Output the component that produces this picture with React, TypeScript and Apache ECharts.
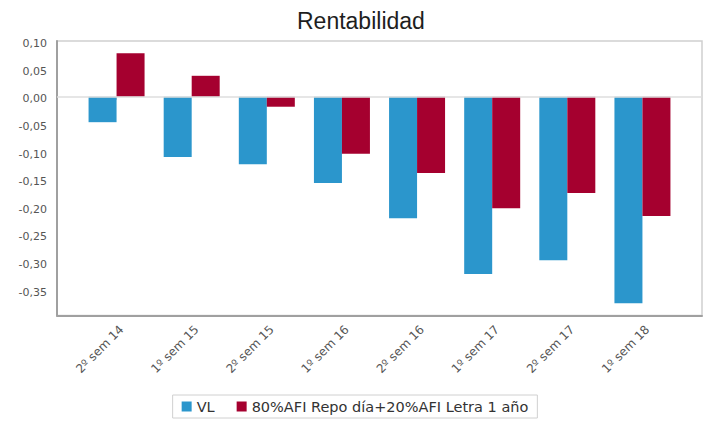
import React, { useEffect, useRef } from "react";
import * as echarts from "echarts";

const categories = ["2º sem 14", "1º sem 15", "2º sem 15", "1º sem 16", "2º sem 16", "1º sem 17", "2º sem 17", "1º sem 18"];
const vlValues = [-0.046, -0.109, -0.122, -0.156, -0.220, -0.321, -0.296, -0.374];
const benchValues = [0.079, 0.038, -0.018, -0.103, -0.138, -0.202, -0.174, -0.216];
const yTicks = [0.1, 0.05, 0, -0.05, -0.1, -0.15, -0.2, -0.25, -0.3, -0.35];
const seriesNames = ["VL", "80%AFI Repo día+20%AFI Letra 1 año"];

const Y_MIN = -0.396;
const Y_MAX = 0.101;

export default function App() {
  const ref = useRef<HTMLDivElement>(null);
  useEffect(() => {
    if (!ref.current) return;
    const chart = echarts.init(ref.current, null, { renderer: "svg" });
    const fmt = (v: number) => {
      const s = Math.abs(v).toFixed(2).replace(".", ",");
      return v < -1e-9 ? "-" + s : s;
    };
    const sans = "DejaVu Sans, Verdana, sans-serif";
    chart.setOption({
      animation: false,
      backgroundColor: "#fff",
      textStyle: { fontFamily: sans },
      title: {
        text: "Rentabilidad",
        left: 292,
        top: 4,
        textStyle: { fontSize: 23, fontWeight: "normal", color: "#1e1e1e", fontFamily: "Liberation Sans, Arial, sans-serif" },
      },
      legend: {
        top: 395,
        left: "center",
        data: seriesNames,
        icon: "rect",
        itemWidth: 10,
        itemHeight: 10,
        itemGap: 22,
        borderColor: "#d0d0d0",
        borderWidth: 1,
        padding: [4, 9],
        textStyle: { fontSize: 14.5, color: "#333", fontFamily: sans },
      },
      grid: [
        { left: 57, top: 41, width: 645, height: 274.5, show: true, borderColor: "#d0d0d0", borderWidth: 1.5, backgroundColor: "transparent" },
        { left: 79, top: 41, width: 601, height: 274.5 },
        { left: 84, top: 41, width: 601, height: 274.5 },
      ],
      xAxis: [
        {
          type: "category",
          gridIndex: 0,
          data: categories,
          axisLine: { show: true, onZero: false, lineStyle: { color: "#a0a0a0", width: 2 } },
          axisTick: { show: false },
          axisLabel: { show: false },
          splitLine: { show: false },
        },
        {
          type: "category",
          gridIndex: 1,
          data: categories,
          axisLine: { show: false },
          axisTick: { show: true, alignWithLabel: true, length: 3, lineStyle: { color: "#c8c8c8" } },
          axisLabel: { show: false },
        },
        {
          type: "category",
          gridIndex: 2,
          data: categories,
          axisLine: { show: false },
          axisTick: { show: false },
          axisLabel: {
            rotate: 45,
            fontSize: 12,
            color: "#555",
            margin: 12,
            interval: 0,
            fontFamily: sans,
          },
        },
      ],
      yAxis: [
        {
          type: "value",
          gridIndex: 0,
          min: Y_MIN,
          max: Y_MAX,
          axisLine: { show: true, lineStyle: { color: "#a0a0a0", width: 2 } },
          axisTick: { show: false },
          splitLine: { show: false },
          axisLabel: {
            customValues: yTicks,
            formatter: (v: number) => fmt(v),
            fontSize: 11,
            color: "#555",
            margin: 10,
            verticalAlign: "top",
            lineHeight: 4,
            fontFamily: sans,
          },
        },
        {
          type: "value",
          gridIndex: 1,
          min: Y_MIN,
          max: Y_MAX,
          show: false,
          splitLine: { show: false },
        },
        {
          type: "value",
          gridIndex: 2,
          min: Y_MIN,
          max: Y_MAX,
          show: false,
          splitLine: { show: false },
        },
      ],
      series: [
        {
          type: "line",
          xAxisIndex: 0,
          yAxisIndex: 0,
          data: [],
          silent: true,
          markLine: {
            silent: true,
            symbol: "none",
            label: { show: false },
            lineStyle: { color: "#dedede", type: "solid", width: 1.5 },
            data: [{ yAxis: 0 }],
          },
        },
        {
          name: seriesNames[0],
          type: "bar",
          xAxisIndex: 1,
          yAxisIndex: 1,
          data: vlValues,
          barWidth: 28,
          barGap: "0%",
          itemStyle: { color: "#2b96cc" },
        },
        {
          name: seriesNames[1],
          type: "bar",
          xAxisIndex: 1,
          yAxisIndex: 1,
          data: benchValues,
          barWidth: 28,
          barGap: "0%",
          itemStyle: { color: "#a5002f" },
        },
      ],
    });
    return () => chart.dispose();
  }, []);
  return <div ref={ref} style={{ position: "fixed", left: 0, top: 0, width: 710, height: 424 }} />;
}
